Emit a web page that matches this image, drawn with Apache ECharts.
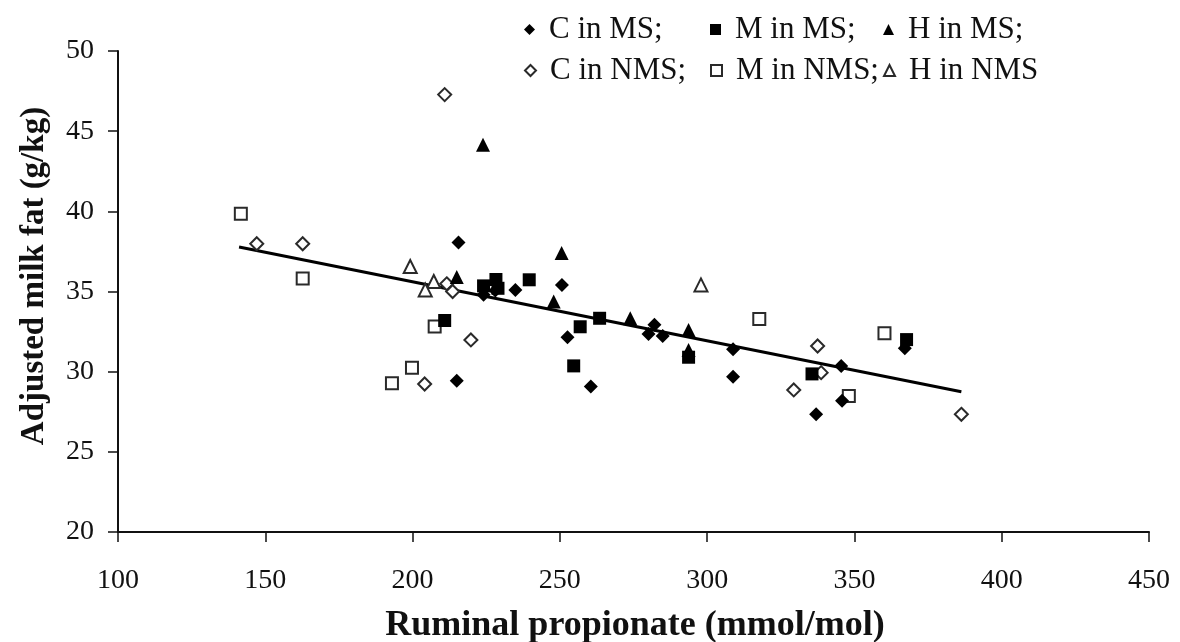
<!DOCTYPE html>
<html>
<head>
<meta charset="utf-8">
<script src="https://cdn.jsdelivr.net/npm/echarts@6/dist/echarts.min.js"></script>
<style>
  html, body { margin: 0; padding: 0; background: #ffffff; }
  #chart { width: 1180px; height: 642px; }
</style>
</head>
<body>
<div id="chart"></div>
<script>
// Ruminal propionate (mmol/mol) vs adjusted milk fat (g/kg), one array per group
const cInMS = [
  [215.6, 38.06], [224.1, 34.79], [228.1, 35.06], [234.9, 35.10], [250.7, 35.41],
  [252.6, 32.15], [215.0, 29.44], [260.5, 29.08], [282.1, 32.92], [280.1, 32.35],
  [284.9, 32.23], [308.8, 31.40], [308.8, 29.69], [337.0, 27.34], [345.5, 30.36],
  [345.8, 28.19], [367.1, 31.46]
];
const mInMS = [
  [224.1, 35.35], [228.3, 35.75], [229.0, 35.20], [239.6, 35.73], [210.9, 33.19],
  [256.9, 32.80], [254.7, 30.36], [263.5, 33.33], [293.7, 30.90], [335.6, 29.86],
  [367.7, 32.00]
];
const hInMS = [
  [223.9, 44.16], [250.6, 37.40], [215.0, 35.90], [247.9, 34.37], [273.9, 33.33],
  [293.7, 32.60], [293.7, 31.35]
];
const cInNMS = [
  [147.1, 37.98], [162.7, 37.98], [210.9, 47.28], [211.6, 35.48], [213.6, 35.00],
  [219.8, 31.98], [204.1, 29.23], [337.5, 31.60], [338.7, 29.94], [329.4, 28.86],
  [386.3, 27.34]
];
const mInNMS = [
  [141.7, 39.85], [162.7, 35.81], [207.5, 32.81], [199.8, 30.25], [193.0, 29.27],
  [317.7, 33.29], [348.1, 28.48], [360.2, 32.40]
];
const hInNMS = [
  [199.2, 36.56], [207.2, 35.62], [204.3, 35.10], [297.9, 35.41]
];
// end points of the regression line
const trendLine = [[141.1, 37.77], [386.3, 28.75]];

const groupNames = ['C in MS;', 'M in MS;', 'H in MS;', 'C in NMS;', 'M in NMS;', 'H in NMS'];
const xAxisTitle = 'Ruminal propionate (mmol/mol)';
const yAxisTitle = 'Adjusted milk fat (g/kg)';

const serif = '"Liberation Serif", "Times New Roman", serif';
const ink = '#111111';

function filled(name, symbol, size, data) {
  return {
    type: 'scatter', name, symbol, symbolSize: size, data,
    itemStyle: { color: '#000000', borderWidth: 0, opacity: 1 },
    emphasis: { disabled: true }, z: 3
  };
}
function hollow(name, symbol, size, data) {
  return {
    type: 'scatter', name, symbol, symbolSize: size, data,
    itemStyle: { color: '#ffffff', borderColor: '#2a2a2a', borderWidth: 2, opacity: 1 },
    emphasis: { disabled: true }, z: 2
  };
}

// one legend block per group, laid out as a 3 x 2 grid
const legendCols = [524, 710, 883];
const legendRows = [14, 55];
const legends = groupNames.map((name, i) => ({
  data: [name],
  left: legendCols[i % 3],
  top: legendRows[Math.floor(i / 3)],
  padding: 0,
  itemWidth: 11,
  itemHeight: 11,
  selectedMode: false,
  textStyle: { fontFamily: serif, fontSize: 31, color: ink, padding: [0, 0, 0, 9] }
}));

const chart = echarts.init(document.getElementById('chart'), null, { renderer: 'canvas' });
chart.setOption({
  animation: false,
  backgroundColor: '#ffffff',
  legend: legends,
  grid: { left: 118, right: 31, top: 51, bottom: 110, containLabel: false },
  xAxis: {
    type: 'value', min: 100, max: 450, interval: 50,
    axisLine: { show: true, onZero: false, lineStyle: { color: '#111', width: 2 } },
    axisTick: { show: true, inside: false, length: 10, lineStyle: { color: '#111', width: 1.5 } },
    axisLabel: { fontFamily: serif, fontSize: 28, color: ink, margin: 35 },
    splitLine: { show: false }
  },
  yAxis: {
    type: 'value', min: 20, max: 50, interval: 5,
    axisLine: { show: true, onZero: false, lineStyle: { color: '#111', width: 2 } },
    axisTick: { show: true, inside: false, length: 10, lineStyle: { color: '#111', width: 1.5 } },
    axisLabel: { fontFamily: serif, fontSize: 28, color: ink, margin: 24 },
    splitLine: { show: false }
  },
  graphic: [
    {
      type: 'text', x: 635, y: 626, silent: true,
      style: {
        text: xAxisTitle, font: 'bold 36px ' + serif, fill: ink,
        align: 'center', verticalAlign: 'middle',
        textAlign: 'center', textVerticalAlign: 'middle'
      }
    },
    {
      type: 'text', x: 34, y: 276, rotation: Math.PI / 2, silent: true,
      style: {
        text: yAxisTitle, font: 'bold 33px ' + serif, fill: ink,
        align: 'center', verticalAlign: 'middle',
        textAlign: 'center', textVerticalAlign: 'middle'
      }
    }
  ],
  series: [
    {
      type: 'line', data: trendLine, symbol: 'none', silent: true,
      lineStyle: { color: '#000000', width: 3 }, z: 1, legendHoverLink: false
    },
    hollow(groupNames[3], 'diamond', 13, cInNMS),
    hollow(groupNames[4], 'rect', 12, mInNMS),
    hollow(groupNames[5], 'triangle', 13, hInNMS),
    filled(groupNames[0], 'diamond', 14, cInMS),
    filled(groupNames[1], 'rect', 13, mInMS),
    filled(groupNames[2], 'triangle', 14, hInMS)
  ]
});
</script>
</body>
</html>
